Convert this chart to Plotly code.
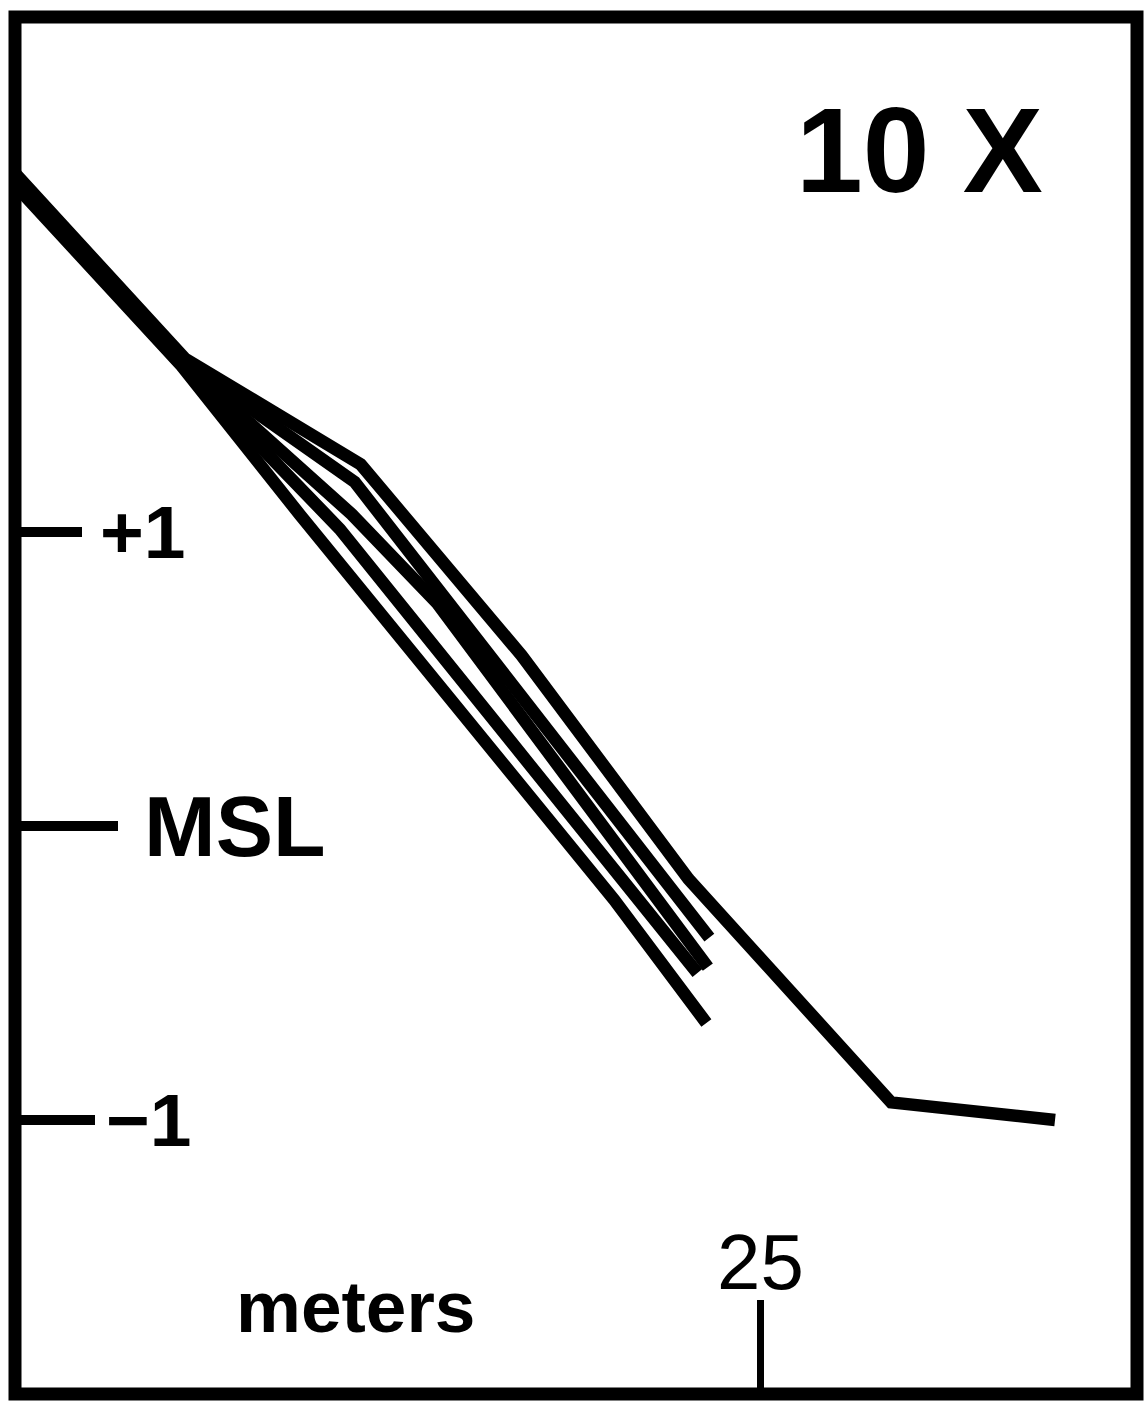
import plotly.graph_objects as go

# Repeated beach profiles: distance (m) vs elevation relative to mean sea level (m)
dist_p1 = [0, 5.7, 11.6, 17.0, 22.6, 29.4, 34.9]
elev_p1 = [2.22, 1.59, 1.23, 0.58, -0.18, -0.94, -1.0]

dist_p2 = [0, 5.8, 11.4, 21.1, 23.3]
elev_p2 = [2.21, 1.57, 1.17, -0.08, -0.38]

dist_p3 = [0, 5.8, 11.3, 14.15, 23.25]
elev_p3 = [2.2, 1.56, 1.06, 0.76, -0.48]

dist_p4 = [0, 5.75, 10.9, 22.9]
elev_p4 = [2.19, 1.55, 1.01, -0.5]

dist_p5 = [0, 5.55, 9.55, 14.6, 20.1, 23.2]
elev_p5 = [2.18, 1.57, 1.06, 0.43, -0.25, -0.67]

profiles = [
    (dist_p1, elev_p1),
    (dist_p2, elev_p2),
    (dist_p3, elev_p3),
    (dist_p4, elev_p4),
    (dist_p5, elev_p5),
]

y_ticks = [1, 0, -1]
y_tick_text = ["+1", "MSL", "\u22121"]
x_ticks = [25]
x_tick_text = ["25"]

W, H = 1146, 1403
# plot area in page pixels
PL, PR, PT, PB = 9, 1146, 0, 1400
X_RANGE = [-0.2013, 37.953]
Y_RANGE = [-1.9524, 2.8095]
FONT = "Liberation Sans"


def fx(px):
    return (px - PL) / (PR - PL)


def fy(py):
    return (PB - py) / (PB - PT)


fig = go.Figure()
for d, e in profiles:
    fig.add_trace(go.Scatter(
        x=d, y=e, mode="lines",
        line=dict(color="black", width=12.5),
        hoverinfo="skip", showlegend=False,
    ))

# one overlaid y axis per level so each tick can have its own length
tick_lens = [73, 109, 86]
axis_names = ["y", "y2", "y3"]
for name in axis_names[1:]:
    fig.add_trace(go.Scatter(x=[None], y=[None], yaxis=name,
                             showlegend=False, hoverinfo="skip"))

common_y = dict(range=Y_RANGE, showgrid=False, zeroline=False, showline=False,
                showticklabels=False, ticks="inside", tickwidth=10,
                tickcolor="black", fixedrange=True)
fig.update_layout(
    yaxis=dict(**common_y, tickvals=[y_ticks[0]], ticklen=tick_lens[0]),
    yaxis2=dict(**common_y, tickvals=[y_ticks[1]], ticklen=tick_lens[1],
                overlaying="y", anchor="x", side="left"),
    yaxis3=dict(**common_y, tickvals=[y_ticks[2]], ticklen=tick_lens[2],
                overlaying="y", anchor="x", side="left"),
    xaxis=dict(range=X_RANGE, showgrid=False, zeroline=False, showline=False,
               showticklabels=False, ticks="inside", tickvals=x_ticks,
               ticklen=100, tickwidth=7, tickcolor="black", fixedrange=True),
)

# level labels beside the ticks
label_x = [98, 142, 104]
label_size = [75, 86, 75]
for val, txt, lx, sz in zip(y_ticks, y_tick_text, label_x, label_size):
    fig.add_annotation(
        x=fx(lx), xref="paper", xanchor="left",
        y=val, yref="y", yanchor="middle",
        text="<b>" + txt + "</b>", showarrow=False,
        font=dict(family=FONT, size=sz, color="black"),
    )

# distance label
fig.add_annotation(
    x=x_ticks[0], xref="x", xanchor="center",
    y=fy(1262), yref="paper", yanchor="middle",
    text=x_tick_text[0], showarrow=False,
    font=dict(family=FONT, size=78, color="black"),
)
fig.add_annotation(
    x=fx(355), xref="paper", xanchor="center",
    y=fy(1306), yref="paper", yanchor="middle",
    text="<b>meters</b>", showarrow=False,
    font=dict(family=FONT, size=73, color="black"),
)
fig.add_annotation(
    x=fx(1045), xref="paper", xanchor="right",
    y=fy(150), yref="paper", yanchor="middle",
    text="<b>10 X</b>", showarrow=False,
    font=dict(family=FONT, size=120, color="black"),
)

# heavy frame around the panel
fig.add_shape(type="rect", xref="paper", yref="paper",
              x0=fx(15), x1=fx(1137), y0=fy(1394), y1=fy(17),
              line=dict(color="black", width=13), fillcolor="rgba(0,0,0,0)",
              layer="above")

fig.update_layout(
    width=W, height=H,
    margin=dict(l=PL, r=W - PR, t=PT, b=H - PB, autoexpand=False),
    paper_bgcolor="white", plot_bgcolor="white",
    font=dict(family=FONT, color="black"),
)

fig.write_html("out.html")
